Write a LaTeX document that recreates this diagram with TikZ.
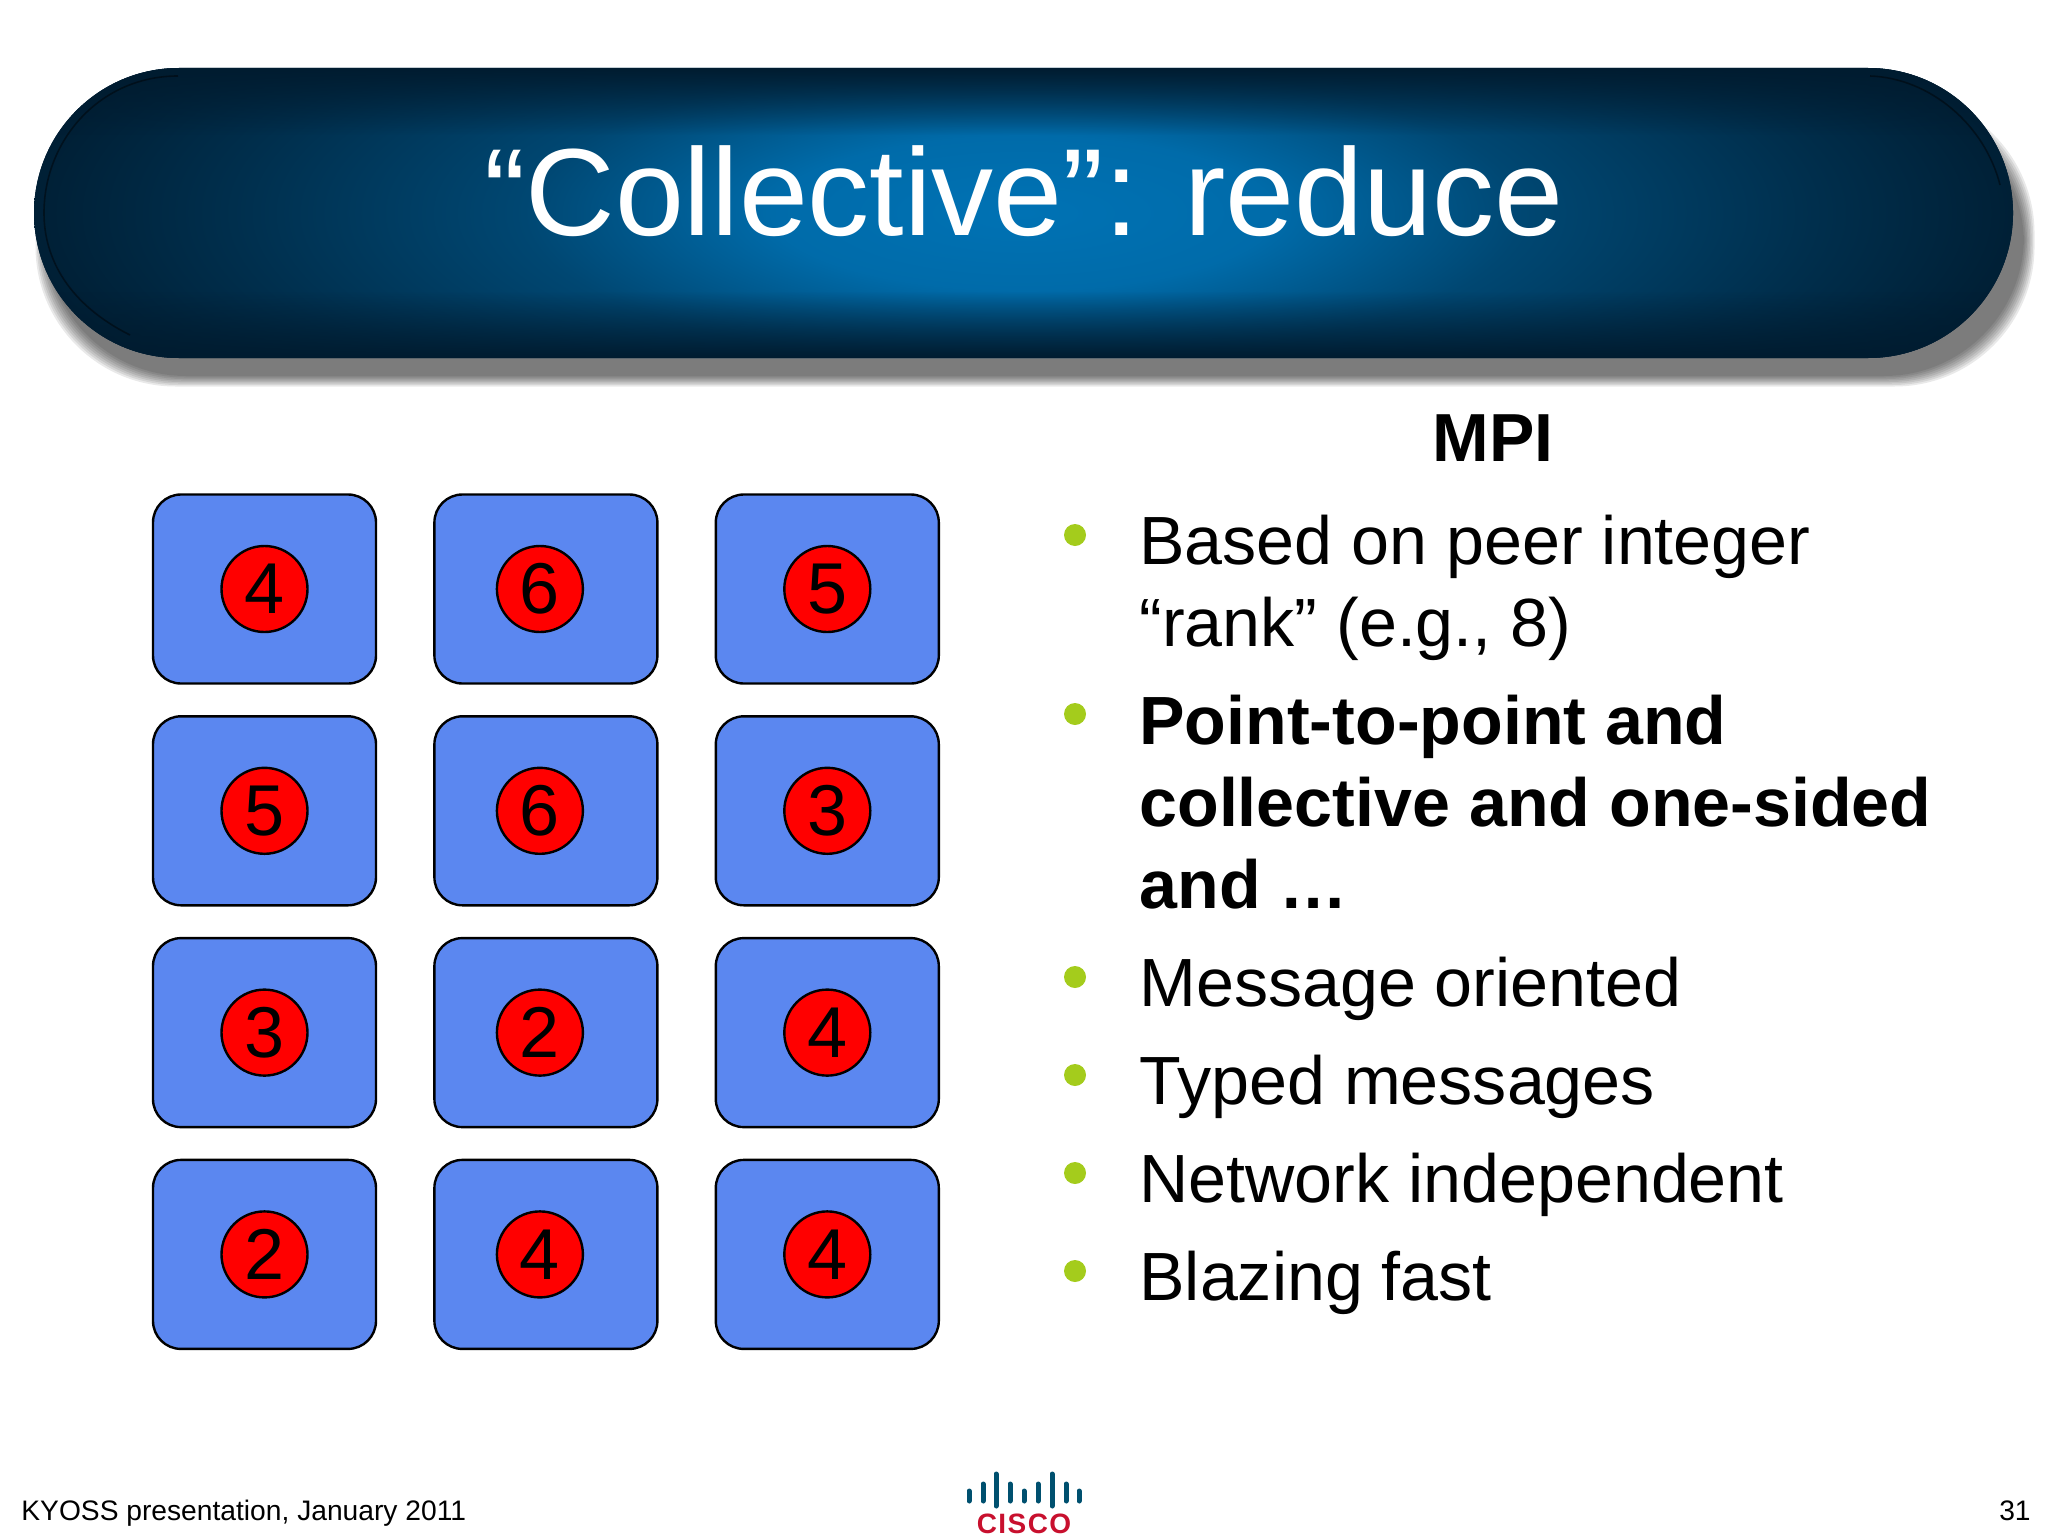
\documentclass[tikz,border=0pt]{standalone}
\usepackage{fontspec}
\setmainfont{Liberation Sans}
\usetikzlibrary{positioning,shapes.misc,fadings}

\definecolor{barglow}{HTML}{0072B4}
\definecolor{bardark}{HTML}{001C30}
\definecolor{boxblue}{HTML}{5B87F0}
\definecolor{bulletgreen}{HTML}{A4CC1C}
\definecolor{ciscoteal}{HTML}{00506F}
\definecolor{ciscored}{HTML}{C8102E}

\pgfdeclareradialshading{barshade}{\pgfpointorigin}{
  color(0bp)=(barglow);
  color(6bp)=(barglow!92!bardark);
  color(12bp)=(barglow!50!bardark);
  color(19bp)=(barglow!22!bardark);
  color(25bp)=(bardark);
  color(50bp)=(bardark)}

\tikzset{
  x=0.5pt, y=-0.5pt,
  node distance=15.2pt and 28pt,
  procbox/.style={draw=black, line width=1.2pt, fill=boxblue, rounded corners=14pt,
    minimum width=111.5pt, minimum height=94.5pt, inner sep=0pt},
  valdot/.style={circle, draw=black, line width=1.2pt, fill=red, minimum size=43pt,
    inner sep=0pt, font=\fontsize{36}{36}\selectfont},
  bulletdot/.style={circle, fill=bulletgreen, minimum size=11pt, inner sep=0pt},
  itemtext/.style={anchor=base west, inner sep=0pt, align=left,
    font=\fontsize{34.1}{41}\selectfont},
  foottext/.style={inner sep=0pt, font=\fontsize{14.1}{14.1}\selectfont},
  capline/.style={color=black!85!bardark, opacity=0.5, line width=0.8pt},
}

\begin{document}
\begin{tikzpicture}
  \useasboundingbox (0,0) rectangle (2048,1536);
  % shadow under the title bar
  \foreach \g in {0,...,7}
    \fill[black, opacity=0.085, rounded corners=70pt]
      (46-\g*1.5,104-\g*1.5) rectangle (2024+\g*1.5,376+\g*1.5);
  \node[rounded rectangle, minimum width=989.5pt, minimum height=145pt, inner sep=0pt,
    fill=bardark, path picture={
      \shade[shading=barshade] (path picture bounding box.center) ellipse (1040 and 320);
      % these two are relative to the bar's centre
      \fill[bardark, path fading=south] (-1024,-145) rectangle (1024,-78);
      \fill[bardark, path fading=north] (-1024,78) rectangle (1024,145);
    }] (bar) at (1023.5,213) {};
  \draw[capline] (178,76) .. controls (100,76) and (44,140) .. (44,213)
    .. controls (44,260) and (70,305) .. (130,335);
  \draw[capline] (1870,76) .. controls (1930,78) and (1985,125) .. (2000,185);
  \node[text=white, inner sep=0pt, anchor=base, font=\fontsize{62}{62}\selectfont] (title)
    at (1024,235) {“Collective”: reduce};

  % processes
  \node[procbox] (p11) at (264.5,589) {};
  \node[procbox, right=of p11] (p12) {};
  \node[procbox, right=of p12] (p13) {};
  \node[procbox, below=of p11] (p21) {};
  \node[procbox, right=of p21] (p22) {};
  \node[procbox, right=of p22] (p23) {};
  \node[procbox, below=of p21] (p31) {};
  \node[procbox, right=of p31] (p32) {};
  \node[procbox, right=of p32] (p33) {};
  \node[procbox, below=of p31] (p41) {};
  \node[procbox, right=of p41] (p42) {};
  \node[procbox, right=of p42] (p43) {};
  \node[valdot] (v11) at (p11) {4};
  \node[valdot, xshift=-3pt] (v12) at (p12) {6};
  \node[valdot] (v13) at (p13) {5};
  \node[valdot] (v21) at (p21) {5};
  \node[valdot, xshift=-3pt] (v22) at (p22) {6};
  \node[valdot] (v23) at (p23) {3};
  \node[valdot] (v31) at (p31) {3};
  \node[valdot, xshift=-3pt] (v32) at (p32) {2};
  \node[valdot] (v33) at (p33) {4};
  \node[valdot] (v41) at (p41) {2};
  \node[valdot, xshift=-3pt] (v42) at (p42) {4};
  \node[valdot] (v43) at (p43) {4};

  % right column
  \node[anchor=base, inner sep=0pt, font=\bfseries\fontsize{34}{34}\selectfont] (mpi)
    at (1493,461) {MPI};
  \node[bulletdot] (b1) at (1075,535) {};
  \node[bulletdot] (b2) at (1075,714) {};
  \node[bulletdot] (b3) at (1075,977) {};
  \node[bulletdot] (b4) at (1075,1075) {};
  \node[bulletdot] (b5) at (1075,1173) {};
  \node[bulletdot] (b6) at (1075,1271) {};
  \node[itemtext] (t1) at (1139,646.5) {Based on peer integer\\“rank” (e.g., 8)};
  \node[itemtext] (t2) at (1139,908.5) {\bfseries Point-to-point and\\\bfseries collective and one-sided\\\bfseries and …};
  \node[itemtext] (t3) at (1139,1006.5) {Message oriented};
  \node[itemtext] (t4) at (1139,1104.5) {Typed messages};
  \node[itemtext] (t5) at (1139,1202.5) {Network independent};
  \node[itemtext] (t6) at (1139,1300.5) {Blazing fast};

  % footer
  \node[foottext, anchor=base west] (foot) at (21,1520) {KYOSS presentation, January 2011};
  \node[foottext, anchor=base east] (page) at (2031,1520) {31};
  \foreach \x/\t/\b in {969/1491/1501, 983/1484/1501, 996/1474/1506, 1010/1484/1501, 1024/1491/1501,
      1038/1484/1501, 1052/1474/1506, 1066/1484/1501, 1079/1491/1501}
    \draw[ciscoteal, line width=2.5pt, line cap=round] (\x,\t) -- (\x,\b);
  \node[anchor=base, inner sep=0pt, text=ciscored,
    font=\addfontfeature{LetterSpace=5}\bfseries\fontsize{14}{14}\selectfont] (cisco)
    at (1024,1533) {CISCO};
\end{tikzpicture}
\end{document}
